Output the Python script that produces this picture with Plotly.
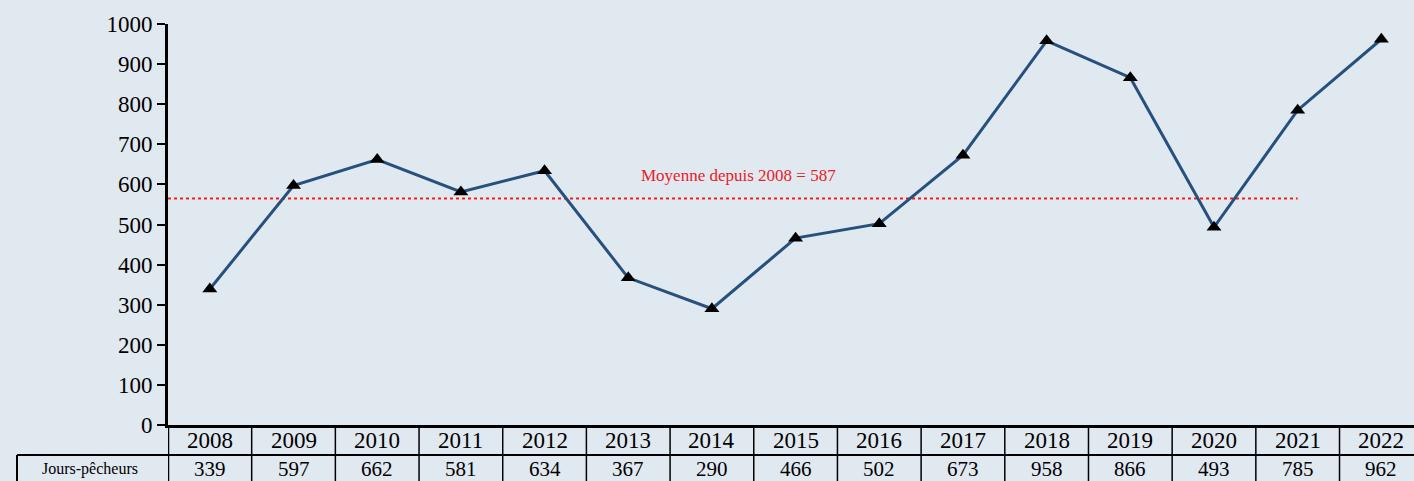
import plotly.graph_objects as go

years = ["2008", "2009", "2010", "2011", "2012", "2013", "2014", "2015",
         "2016", "2017", "2018", "2019", "2020", "2021", "2022"]
jours_pecheurs = [339, 597, 662, 581, 634, 367, 290, 466, 502, 673, 958, 866, 493, 785, 962]
y_ticks = [0, 100, 200, 300, 400, 500, 600, 700, 800, 900, 1000]
mean_label = "Moyenne depuis 2008 = 587"
mean_line_level = 565  # as drawn in the reference
mean_line_end = "2021"
row_label = "Jours-pêcheurs"

BG = "#E0E8F0"
LINE = "#26507D"
FONT = "Liberation Serif"

W, H = 1414, 481
ML, MT, MB = 168, 24, 56
plot_h = H - MT - MB
plot_w = W - ML

def py(px):  # pixel offset below the x axis -> paper y
    return -px / plot_h

def pxx(px):  # absolute pixel x -> paper x
    return (px - ML) / plot_w

fig = go.Figure()

# mean line
fig.add_trace(go.Scatter(
    x=[-0.5, years.index(mean_line_end)], y=[mean_line_level, mean_line_level],
    mode="lines", line=dict(color="#FF1A1A", width=2, dash="3px,3px"),
    hoverinfo="skip", showlegend=False))

# data series
fig.add_trace(go.Scatter(
    x=list(range(len(years))), y=jours_pecheurs, mode="lines+markers",
    line=dict(color=LINE, width=3),
    marker=dict(symbol="triangle-up", size=13, color="black"),
    showlegend=False, name=row_label))

shapes = []
n = len(years)
# table horizontal lines
shapes.append(dict(type="line", xref="paper", yref="paper", x0=pxx(17), x1=1.05,
                   y0=py(30), y1=py(30), line=dict(color="black", width=2)))
# left label cell border
shapes.append(dict(type="line", xref="paper", yref="paper", x0=pxx(17), x1=pxx(17),
                   y0=py(30), y1=py(70), line=dict(color="black", width=2)))
# column separators
for k in range(n + 1):
    shapes.append(dict(type="line", xref="x", yref="paper", x0=k - 0.5, x1=k - 0.5,
                       y0=0, y1=py(70), line=dict(color="black", width=1.5 if k else 2.5)))

annotations = []
for i, (yr, v) in enumerate(zip(years, jours_pecheurs)):
    annotations.append(dict(x=i, y=py(15), xref="x", yref="paper", text=yr,
                            xanchor="center", yanchor="middle", showarrow=False,
                            font=dict(family=FONT, size=23, color="black")))
    annotations.append(dict(x=i, y=py(44), xref="x", yref="paper", text=str(v),
                            xanchor="center", yanchor="middle", showarrow=False,
                            font=dict(family=FONT, size=21, color="black")))
annotations.append(dict(x=pxx(90), y=py(44), xref="paper", yref="paper", text=row_label,
                        xanchor="center", yanchor="middle", showarrow=False,
                        font=dict(family=FONT, size=16, color="black")))
annotations.append(dict(x=6.32, y=621, xref="x", yref="y", text=mean_label,
                        xanchor="center", yanchor="middle", showarrow=False,
                        font=dict(family=FONT, size=17, color="#E8202A")))

fig.update_layout(
    width=W, height=H,
    margin=dict(l=ML, r=0, t=MT, b=MB, pad=0),
    paper_bgcolor=BG, plot_bgcolor=BG,
    shapes=shapes, annotations=annotations,
    xaxis=dict(range=[-0.5, 14.39], showticklabels=False, ticks="", showgrid=False,
               zeroline=False, showline=True, linecolor="black", linewidth=3),
    yaxis=dict(range=[0, 1000], tickvals=y_ticks, ticks="outside", ticklen=8,
               tickwidth=2, tickcolor="black", showgrid=False, zeroline=False,
               showline=True, linecolor="black", linewidth=3,
               tickfont=dict(family=FONT, size=23, color="black")),
)

fig.write_html("out.html", config={"displayModeBar": False},
               post_script="document.body.style.margin='0';document.body.style.background='%s';" % BG)
